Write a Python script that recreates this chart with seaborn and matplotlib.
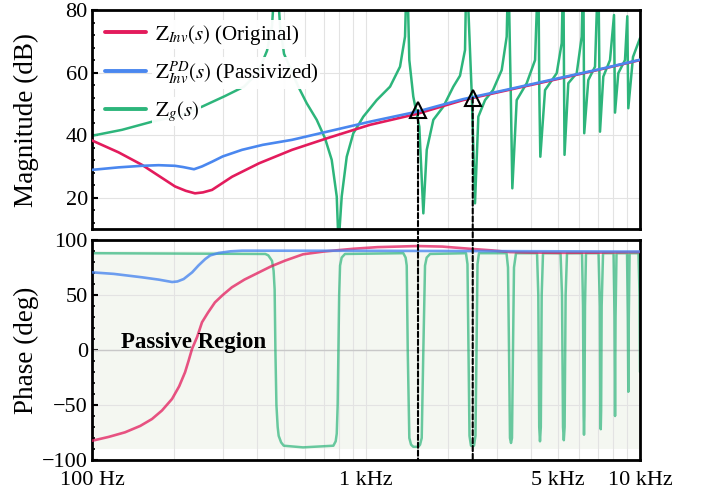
import numpy as np
import matplotlib.pyplot as plt
import seaborn as sns
from matplotlib.lines import Line2D
from matplotlib.patches import ConnectionPatch
from matplotlib.ticker import AutoMinorLocator, FixedLocator, LogLocator, NullFormatter

# ── Magnitude (Hz, dB) ──
inv_mag_f = [100, 125, 152.2, 200.9, 220, 237.6, 254, 274.2, 324.4, 407.0, 537.0, 720.6,
             1034, 1535, 2259, 3216, 4694, 7145, 10000]
inv_mag_db = [38.3, 34.5, 30.5, 23.6, 22.2, 21.4, 21.7, 22.5, 26.7, 31.0, 35.3, 39.0,
              43.3, 46.8, 51.2, 54.2, 57.4, 61.0, 64.0]

pd_mag_f = [100, 125, 152.2, 175, 200.9, 215, 235.6, 252, 274.2, 300, 352.7, 420, 537.0,
            720.6, 1034, 1535, 2259, 3216, 4694, 7145, 10000]
pd_mag_db = [28.9, 29.7, 30.2, 30.4, 30.2, 29.8, 29.1, 30.0, 31.5, 33.2, 35.3, 36.9, 38.5,
             41.1, 44.3, 47.5, 51.5, 54.4, 57.6, 61.1, 64.1]

g_mag_f = [100, 128.7, 165.6, 213.1, 252.0, 305.8, 358.7, 403.5, 435.3, 453.9,
           469.4, 485.6, 502.0, 566.2, 607.5, 660.8, 708.6, 749.6, 781.9, 793.8,
           815.3, 850.4, 898.8, 977.5, 1094, 1224, 1331, 1388, 1411, 1439,
           1488, 1565, 1619, 1666, 1761, 1915, 2083, 2203, 2298, 2327,
           2431, 2499, 2570, 2719, 2907, 3128, 3262, 3306, 3374, 3420,
           3548, 3859, 4140, 4255, 4291, 4327, 4502, 4966, 5179, 5250,
           5280, 5303, 5474, 5875, 6127, 6210, 6258, 6476, 6852, 7044,
           7145, 7346, 7772, 8038, 8106, 8332, 8815, 8988, 9063, 9429, 10000]
g_mag_db = [39.8, 41.7, 44.3, 46.5, 49.1, 52.5, 55.5, 60.0, 67.0, 75.0,
            95.0, 75.0, 66.0, 55.5, 50.2, 44.9, 39.0, 32.1, 20.4, 5.0,
            20.4, 33.1, 40.6, 45.9, 51.2, 55.5, 61.9, 71.5, 95.0, 64.0,
            52.3, 42.7, 15.0, 35.3, 44.9, 49.1, 55.5, 59.0, 67.2, 95.0,
            53.4, 18.2, 45.9, 51.2, 54.4, 60.8, 71.5, 95.0, 54.4, 23.0,
            51.2, 56.6, 64.0, 95.0, 53.4, 33.1, 54.4, 59.8, 69.4, 95.0,
            58.7, 33.7, 56.6, 59.8, 71.5, 95.0, 40.6, 57.6, 61.9, 95.0,
            41.1, 58.7, 64.0, 78.4, 47.2, 59.8, 64.0, 78.0, 48.6, 65.0, 71.0]

# ── Phase (Hz, deg) ──
inv_ph_f = [100, 115, 132, 150, 165.6, 180, 195.9, 208, 218.5, 225, 231.7, 242, 252,
            265, 281, 300, 324, 360, 407, 450, 506, 589, 700, 897, 1100, 1535, 1900,
            2396, 2900, 3353, 4000, 5105, 7000, 10000]
inv_ph_deg = [-82.5, -79.0, -74.8, -69.0, -62.7, -55.0, -44.5, -33.0, -20.3, -10.0, 0.9,
              12.0, 25.2, 34.0, 43.3, 50.0, 57.0, 64.0, 70.6, 76.0, 81.2, 87.0, 89.5,
              92.0, 93.5, 94.5, 94.0, 92.0, 90.5, 89.0, 88.6, 88.3, 88.5, 89.0]

pd_ph_f = [100, 120, 152, 175, 196, 205, 216, 232, 245, 259, 270, 290, 320, 353, 1000, 10000]
pd_ph_deg = [70.6, 69.2, 66.1, 64.0, 61.8, 62.3, 64.5, 70.6, 77.0, 82.7, 86.0, 88.2,
             89.7, 90.3, 90.2, 89.5]

g_ph_f = [100, 429, 440, 454, 460, 464, 467, 471, 476, 480, 490, 501, 589, 760, 775, 782,
          788, 793, 798, 804, 815, 838,
          1368, 1395, 1408, 1420, 1439, 1460, 1488, 1552, 1575, 1597, 1619, 1642, 1665, 1713,
          2317, 2346, 2366, 2386, 2416, 2478, 2509, 2531, 2552, 2584,
          3257, 3298, 3326, 3353, 3382, 3410, 3439, 3468, 3527,
          4209, 4254, 4287, 4315, 4345, 4377, 4426,
          5128, 5192, 5236, 5271, 5307, 5352, 5415,
          6142, 6194, 6226, 6246, 6268, 6299, 6352,
          7057, 7136, 7165, 7190, 7213, 7245, 7330,
          8006, 8073, 8108, 8142, 8209,
          8966, 9026, 9063, 9101, 9162,
          9874, 9959, 10000]
g_ph_deg = [88, 87.3, 86, 81, 72, 55, 0, -50, -70, -78, -84, -87, -88.5, -87, -83, -76,
            -50, 0, 50, 76.7, 84, 87.3,
            88, 84, 76.7, 0, -80, -86, -88, -88, -86, -80, 0, 76.7, 84, 87.3,
            88, 78, 0, -78, -87, -87, -78, 0, 78, 88,
            88, 75, 0, -80, -84.5, -80, 0, 75, 88,
            88, 50, -70, -83, -70, 50, 88,
            88, 50, -70, -82, -70, 50, 88,
            88, 40, -60, -77, -60, 40, 88,
            88, 40, -55, -72, -55, 40, 88,
            88, 30, -60, 30, 88,
            88, 30, -38, 30, 88,
            88, 50, -20]

# intersection markers
tri_f = [1548, 2452]
tri_db = [48.0, 52.0]

xtick_vals = [100, 1000, 5000, 10000]
xtick_labels = ["100 Hz", "1 kHz", "5 kHz", "10 kHz"]

red = "#e31b5c"
blue = "#4a87ef"
green = "#2db57b"

sns.set_theme(style="white")
plt.rcParams["font.family"] = ["Liberation Serif", "DejaVu Serif"]
plt.rcParams["mathtext.fontset"] = "stix"
for k in ["text.color", "axes.labelcolor", "xtick.color", "ytick.color"]:
    plt.rcParams[k] = "black"

fig = plt.figure(figsize=(7.04, 4.93), dpi=100)
ax1 = fig.add_axes([0.1307, 0.5355, 0.7784, 0.4442])
ax2 = fig.add_axes([0.1307, 0.0669, 0.7784, 0.4463])

# ── magnitude ──
sns.lineplot(x=g_mag_f, y=g_mag_db, ax=ax1, color=green, lw=1.8, sort=False, estimator=None, zorder=2)
sns.lineplot(x=inv_mag_f, y=inv_mag_db, ax=ax1, color=red, lw=1.9, sort=False, estimator=None, zorder=3)
sns.lineplot(x=pd_mag_f, y=pd_mag_db, ax=ax1, color=blue, lw=1.9, sort=False, estimator=None, zorder=4)

# ── phase ──
ax2.axhspan(-90, 90, color="#f4f7f1", lw=0, zorder=0.1)
ax2.axhline(0, color="#c8c8c8", lw=1.0, zorder=0.6)
sns.lineplot(x=g_ph_f, y=g_ph_deg, ax=ax2, color=green, lw=1.8, alpha=0.7, sort=False, estimator=None, zorder=2)
sns.lineplot(x=inv_ph_f, y=inv_ph_deg, ax=ax2, color=red, lw=1.9, alpha=0.75, sort=False, estimator=None, zorder=3)
sns.lineplot(x=pd_ph_f, y=pd_ph_deg, ax=ax2, color=blue, lw=1.9, alpha=0.8, sort=False, estimator=None, zorder=4)
ax2.text(128, 7, "Passive Region", fontsize=16.5, fontweight="bold", va="center", ha="left")

for ax in (ax1, ax2):
    ax.set_xscale("log")
    ax.set_xlim(100, 10000)
    ax.xaxis.set_major_locator(FixedLocator(xtick_vals))
    ax.xaxis.set_minor_locator(LogLocator(base=10, subs=np.arange(2, 10)))
    ax.xaxis.set_minor_formatter(NullFormatter())
    ax.yaxis.set_minor_locator(AutoMinorLocator(5))
    ax.tick_params(axis="x", which="minor", length=0)
    ax.tick_params(axis="x", which="major", direction="in", length=2.5, width=1.5, labelsize=16, pad=8)
    ax.tick_params(axis="y", which="major", direction="in", length=4, width=1.5, labelsize=16, pad=3, left=True)
    ax.tick_params(axis="y", which="minor", direction="in", length=2, width=1.2, left=True)
    ax.grid(True, which="major", color="#e3e3e3", lw=0.8)
    ax.grid(True, which="minor", axis="x", color="#e3e3e3", lw=0.8)
    for s in ax.spines.values():
        s.set_linewidth(2)
        s.set_color("black")

ax1.set_ylim(10, 80)
ax1.set_yticks([20, 40, 60, 80])
ax1.set_xticklabels([])
ax1.set_ylabel("Magnitude (dB)", fontsize=19.5)
ax1.yaxis.set_label_coords(-0.097, 0.5)

ax2.set_ylim(-100, 100)
ax2.set_yticks([-100, -50, 0, 50, 100])
ax2.set_xticklabels(xtick_labels)
ax2.set_ylabel("Phase (deg)", fontsize=19.5)
ax2.yaxis.set_label_coords(-0.097, 0.5)

# dashed markers spanning both panels
for f, m in zip(tri_f, tri_db):
    con = ConnectionPatch(xyA=(f, m), coordsA=ax1.transData, xyB=(f, -100), coordsB=ax2.transData,
                          color="black", lw=1.5, linestyle=(0, (2.5, 1.3)), zorder=5)
    fig.add_artist(con)
ax1.plot(tri_f, tri_db, "^", mfc="none", mec="black", ms=11, mew=1.5, zorder=6)

handles = [Line2D([0], [0], color=red, lw=2.8),
           Line2D([0], [0], color=blue, lw=2.8),
           Line2D([0], [0], color=green, lw=2.8)]
labels = [r"$\mathrm{Z}_{Inv}(s)$ (Original)",
          r"$\mathrm{Z}_{Inv}^{PD}(s)$ (Passivized)",
          r"$\mathrm{Z}_{g}(s)$"]
leg = ax1.legend(handles, labels, loc="upper left", fontsize=15, frameon=False,
                 borderaxespad=0.3, borderpad=0.3, handlelength=2.0, handletextpad=0.4,
                 labelspacing=0.6)
for t in leg.get_texts():
    t.set_bbox(dict(facecolor="white", edgecolor="none", pad=1.5, alpha=0.95))

fig.savefig("out.png", dpi=100)
